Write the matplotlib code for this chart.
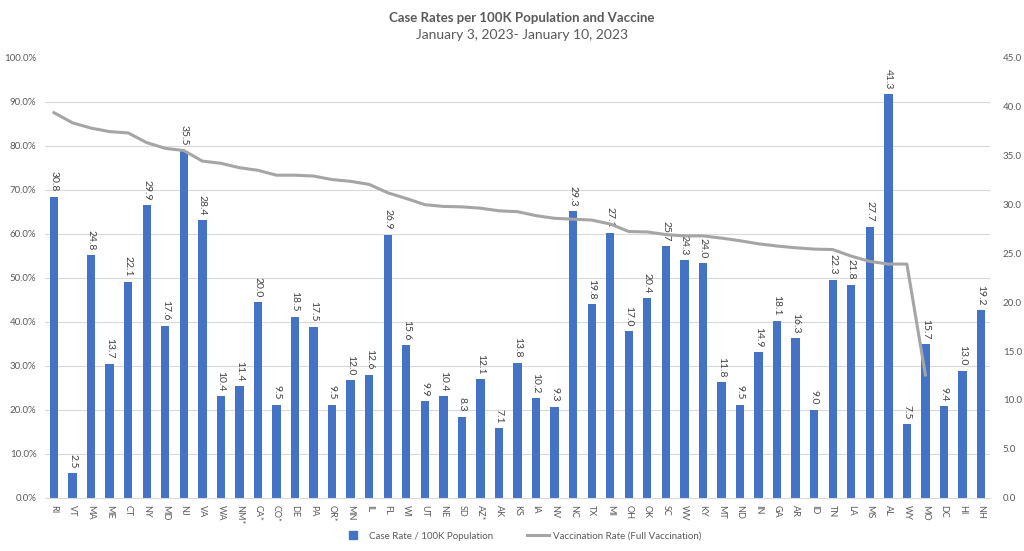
import matplotlib.pyplot as plt
from matplotlib.ticker import FuncFormatter, MultipleLocator
from matplotlib.lines import Line2D
import numpy as np

plt.rcParams['font.family'] = ['Lato', 'DejaVu Sans']

states = ["RI", "VT", "MA", "ME", "CT", "NY", "MD", "NJ", "VA", "WA", "NM*", "CA*", "CO*",
          "DE", "PA", "OR*", "MN", "IL", "FL", "WI", "UT", "NE", "SD", "AZ*", "AK", "KS",
          "IA", "NV", "NC", "TX", "MI", "OH", "OK", "SC", "WV", "KY", "MT", "ND", "IN",
          "GA", "AR", "ID", "TN", "LA", "MS", "AL", "WY", "MO", "DC", "HI", "NH"]

# case rate per 100K (right axis)
case_rate = [30.8, 2.5, 24.8, 13.7, 22.1, 29.9, 17.6, 35.5, 28.4, 10.4, 11.4, 20.0, 9.5,
             18.5, 17.5, 9.5, 12.0, 12.6, 26.9, 15.6, 9.9, 10.4, 8.3, 12.1, 7.1, 13.8,
             10.2, 9.3, 29.3, 19.8, 27.1, 17.0, 20.4, 25.7, 24.3, 24.0, 11.8, 9.5, 14.9,
             18.1, 16.3, 9.0, 22.3, 21.8, 27.7, 41.3, 7.5, 15.7, 9.4, 13.0, 19.2]

# full vaccination rate in percent (left axis), none for DC, HI, NH
vacc_rate = [87.5, 85.2, 84.0, 83.2, 82.9, 80.7, 79.4, 78.9, 76.5, 76.0, 75.0, 74.4, 73.3,
             73.3, 73.1, 72.3, 71.9, 71.2, 69.3, 68.0, 66.6, 66.2, 66.1, 65.8, 65.2, 65.0,
             64.1, 63.5, 63.3, 63.1, 62.2, 60.5, 60.4, 59.8, 59.5, 59.5, 59.0, 58.4, 57.7,
             57.2, 56.8, 56.5, 56.4, 54.9, 53.7, 53.1, 53.1, 27.9, np.nan, np.nan, np.nan]

BAR = "#4472C4"
LINE = "#A5A5A5"
TXT = "#595959"
GRID = "#D9D9D9"

fig = plt.figure(figsize=(10.24, 5.51), dpi=100)
ax = fig.add_axes([0.0437, 0.0967, 0.9234, 0.7986])
x = np.arange(len(states))

# bars on the right-hand axis
ax.bar(x, case_rate, width=0.45, color=BAR, zorder=2)
for xi, v in zip(x, case_rate):
    ax.text(xi, v + 0.5, f"{v:.1f}", rotation=270, ha="center", va="bottom",
            fontsize=7.5, color="#404040")

ax.set_xlim(-0.5, len(states) - 0.5)
ax.set_ylim(0, 45)
ax.set_xticks(x)
ax.set_xticklabels(states, rotation=270, fontsize=6.5, color=TXT)
ax.tick_params(axis="x", length=0, pad=5)
for s in ["top", "left", "right"]:
    ax.spines[s].set_visible(False)
ax.spines["bottom"].set_color(GRID)

# line on the left-hand axis
ax2 = ax.twinx()
ax2.plot(x, vacc_rate, color=LINE, linewidth=2.2, zorder=3)
ax2.set_ylim(0, 100)
ax2.yaxis.tick_left()
ax2.yaxis.set_major_locator(MultipleLocator(10))
ax2.yaxis.set_major_formatter(FuncFormatter(lambda v, p: f"{v:.1f}%"))
ax2.tick_params(axis="y", length=0, labelsize=7, labelcolor=TXT, pad=6)
for s in ax2.spines.values():
    s.set_visible(False)

# twinx resets the first axis to the left, so move it back here
ax.yaxis.tick_right()
ax.yaxis.set_major_locator(MultipleLocator(5))
ax.yaxis.set_minor_locator(MultipleLocator(4.5))
ax.yaxis.set_major_formatter(FuncFormatter(lambda v, p: f"{v:.1f}"))
ax.grid(which="minor", axis="y", color=GRID, linewidth=0.8, zorder=0)
ax.set_axisbelow(True)
ax.tick_params(axis="y", which="both", length=0, labelsize=7, labelcolor=TXT, pad=9)

fig.text(0.509, 0.967, "Case Rates per 100K Population and Vaccine", ha="center",
         va="center", fontsize=9.5, fontweight="bold", color=TXT)
fig.text(0.510, 0.936, "January 3, 2023- January 10, 2023", ha="center", va="center",
         fontsize=10, color=TXT)

handles = [Line2D([0], [0], color=BAR, marker="s", linestyle="none", markersize=6,
                  label="Case Rate / 100K Population"),
           Line2D([0], [0], color=LINE, linewidth=2.2, label="Vaccination Rate (Full Vaccination)")]
fig.legend(handles=handles, loc="center", bbox_to_anchor=(0.51, 0.027), ncol=2,
           frameon=False, fontsize=7, labelcolor=TXT, handlelength=2.2,
           handletextpad=0.5, columnspacing=3.5)

fig.savefig("out.png", dpi=100)
